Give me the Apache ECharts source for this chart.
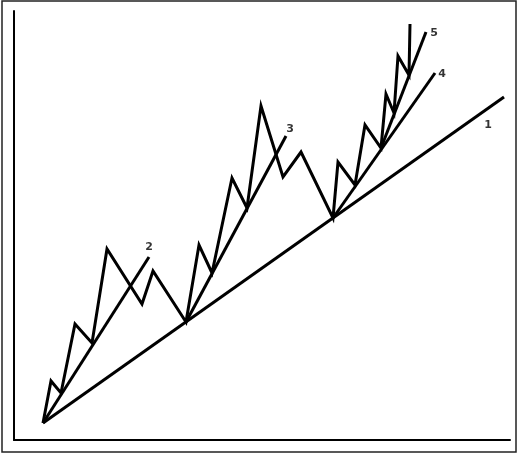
<!DOCTYPE html>
<html>
<head>
<meta charset="utf-8">
<script src="https://cdn.jsdelivr.net/npm/echarts@6/dist/echarts.min.js"></script>
<style>
html,body{margin:0;padding:0;background:#fff;}
#chart{width:518px;height:453px;}
</style>
</head>
<body>
<div id="chart"></div>
<script>
// Price zigzag (x = time units, y = price units)
const priceX = [29, 37, 47, 61, 78, 93, 128, 139, 172, 185, 198, 218, 233, 247, 269, 287, 319, 324, 341, 351, 367, 372, 380, 384, 395, 396];
const priceY = [17, 59, 47, 116, 97, 191, 136, 169, 118, 195, 167, 262, 232, 334, 263, 288, 222, 278, 255, 315, 292, 346, 327, 384, 365, 416];

// Trendlines: start and end points
const trendNames = ['1', '2', '3', '4', '5'];
const trendStartX = [29, 29, 172, 319, 367];
const trendStartY = [17, 17, 118, 222, 292];
const trendEndX = [490, 135, 272, 421, 412];
const trendEndY = [343, 183, 304, 367, 408];

// Trendline label positions
const labelX = [474, 135, 276, 428, 420];
const labelY = [315, 193, 311, 366, 407];

const chart = echarts.init(document.getElementById('chart'), null, {renderer: 'canvas'});

const series = [];
series.push({
  type: 'line',
  data: priceX.map((x, i) => [x, priceY[i]]),
  showSymbol: false,
  symbol: 'none',
  lineStyle: {color: '#000', width: 3, join: 'miter'},
  z: 3
});
trendNames.forEach((n, i) => {
  series.push({
    type: 'line',
    name: 'trend' + n,
    data: [[trendStartX[i], trendStartY[i]], [trendEndX[i], trendEndY[i]]],
    symbol: 'none',
    lineStyle: {color: '#000', width: 3},
    z: 3
  });
});
series.push({
  type: 'scatter',
  symbolSize: 0,
  data: trendNames.map((n, i) => ({value: [labelX[i], labelY[i]], name: n})),
  label: {
    show: true,
    position: 'inside',
    formatter: p => p.name,
    color: '#000',
    fontSize: 11,
    fontWeight: 'bold',
    fontFamily: 'DejaVu Sans'
  },
  z: 4
});

chart.setOption({
  animation: false,
  backgroundColor: '#fff',
  grid: {left: 14, right: 8, top: 11, bottom: 13},
  xAxis: {
    type: 'value', min: 0, max: 496,
    axisLine: {show: true, onZero: false, lineStyle: {color: '#000', width: 2}},
    axisTick: {show: false}, axisLabel: {show: false}, splitLine: {show: false}
  },
  yAxis: {
    type: 'value', min: 0, max: 429,
    axisLine: {show: true, onZero: false, lineStyle: {color: '#000', width: 2}},
    axisTick: {show: false}, axisLabel: {show: false}, splitLine: {show: false}
  },
  graphic: [{
    type: 'rect',
    shape: {x: 2, y: 1, width: 514, height: 451},
    style: {fill: 'none', stroke: '#222', lineWidth: 1.5},
    silent: true
  }],
  series: series
});
</script>
</body>
</html>
